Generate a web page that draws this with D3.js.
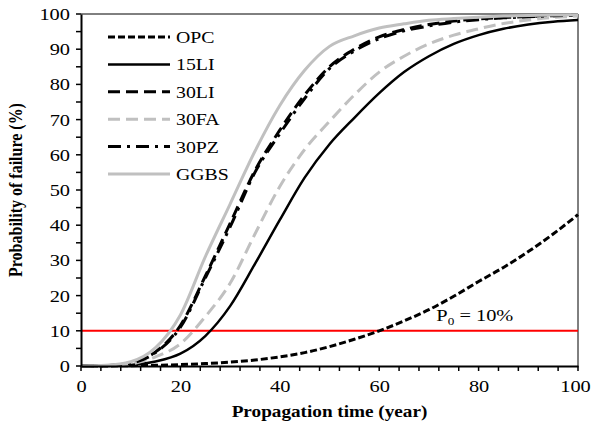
<!DOCTYPE html>
<html>
<head>
<meta charset="utf-8">
<script src="https://cdnjs.cloudflare.com/ajax/libs/d3/7.8.5/d3.min.js"></script>
<style>
  body { margin: 0; background: #fff; }
  svg text { font-family: "Liberation Serif", "Times New Roman", serif; }
</style>
</head>
<body>
<div id="chart"></div>
<script>
// propagation time (year)
var years = [0, 5, 10, 15, 20, 25, 30, 35, 40, 45, 50, 55, 60, 65, 70, 75, 80, 85, 90, 95, 100];

// probability of failure (%)
var opc  = [0, 0, 0.1, 0.2, 0.4, 0.7, 1.1, 1.7, 2.6, 3.8, 5.5, 7.6, 10, 12.8, 16, 19.8, 24, 28, 32.5, 37.5, 43];
var li15 = [0, 0.05, 0.3, 1.3, 3.5, 8.5, 17, 29, 41.5, 53.5, 63, 70.5, 77.5, 83.5, 88, 91.5, 94, 95.8, 97, 97.8, 98.3];
var li30 = [0, 0.1, 0.9, 4, 11.5, 25.5, 40.5, 55.5, 67, 77, 85, 90, 93.5, 95.6, 97, 98, 98.6, 99, 99.3, 99.5, 99.7];
var fa30 = [0, 0.1, 0.6, 2.6, 6.3, 14, 23.5, 37.5, 51, 61.5, 69.5, 77, 83.5, 88, 91.5, 94, 95.8, 97.3, 98.3, 99, 99.4];
var pz30 = [0, 0.1, 0.8, 3.8, 11, 25, 39.5, 55, 66, 76, 84.5, 89.5, 93, 95.2, 96.6, 97.7, 98.4, 98.9, 99.2, 99.5, 99.6];
var ggbs = [0, 0.2, 1.2, 5.2, 14.5, 31, 46, 61, 74, 84, 90.8, 93.8, 96, 97.2, 98.2, 98.7, 99.1, 99.4, 99.6, 99.7, 99.8];

var xTicks = [0, 20, 40, 60, 80, 100];
var yTicks = [0, 10, 20, 30, 40, 50, 60, 70, 80, 90, 100];
var threshold = 10;

var series = [
  { name: "OPC",  values: opc,  color: "#000",    width: 3,   dash: "7,3" },
  { name: "15LI", values: li15, color: "#000",    width: 2.5, dash: null },
  { name: "30LI", values: li30, color: "#000",    width: 3,   dash: "12,6" },
  { name: "30FA", values: fa30, color: "#c0c0c0", width: 3,   dash: "12,6" },
  { name: "30PZ", values: pz30, color: "#000",    width: 3,   dash: "13,6,3,6" },
  { name: "GGBS", values: ggbs, color: "#c0c0c0", width: 3,   dash: null }
];

var w = 591, h = 427;
var margin = { top: 14, right: 13, bottom: 61, left: 81 };
var pw = w - margin.left - margin.right;
var ph = h - margin.top - margin.bottom;
var sx = 1.2; // text in the picture is a bit wider than tall

var svg = d3.select("#chart").append("svg")
  .attr("width", w)
  .attr("height", h);

var g = svg.append("g")
  .attr("transform", "translate(" + margin.left + "," + margin.top + ")");

var xScale = d3.scaleLinear().domain([0, 100]).range([0, pw]);
var yScale = d3.scaleLinear().domain([0, 100]).range([ph, 0]);

// frame top/right
g.append("line").attr("x1", 0).attr("x2", pw).attr("y1", 0).attr("y2", 0)
  .attr("stroke", "#000").attr("stroke-width", 1);
g.append("line").attr("x1", pw).attr("x2", pw).attr("y1", 0).attr("y2", ph)
  .attr("stroke", "#000").attr("stroke-width", 1);

// threshold line
g.append("line")
  .attr("x1", 0).attr("x2", pw)
  .attr("y1", yScale(threshold)).attr("y2", yScale(threshold))
  .attr("stroke", "#ff0000").attr("stroke-width", 2);

var p0 = g.append("text")
  .attr("transform", "translate(" + xScale(71.5) + "," + (yScale(threshold) - 10) + ") scale(" + sx + ",1)")
  .attr("font-size", 17)
  .attr("fill", "#000");
p0.append("tspan").text("P");
p0.append("tspan").text("0").attr("font-size", 11).attr("dy", 4);
p0.append("tspan").text(" = 10%").attr("dy", -4);

// curves
var line = d3.line()
  .x((d, i) => xScale(years[i]))
  .y((d) => yScale(d))
  .curve(d3.curveMonotoneX);

g.selectAll(".curve")
  .data(series)
  .enter()
  .append("path")
  .attr("class", "curve")
  .attr("d", (d) => line(d.values))
  .attr("fill", "none")
  .attr("stroke", (d) => d.color)
  .attr("stroke-width", (d) => d.width)
  .attr("stroke-dasharray", (d) => d.dash);

// axes
var xAxis = d3.axisBottom(xScale).tickValues(xTicks).tickSize(0).tickPadding(14);
var yAxis = d3.axisLeft(yScale).tickValues(yTicks).tickSize(0).tickPadding(11);

var gx = g.append("g")
  .attr("transform", "translate(0," + ph + ")")
  .call(xAxis);
var gy = g.append("g").call(yAxis);

[gx, gy].forEach(function(a) {
  a.select(".domain").attr("stroke", "#000").attr("stroke-width", 2);
  a.selectAll("text").attr("font-size", 17).attr("fill", "#000")
    .attr("font-family", null)
    .attr("transform", "scale(" + sx + ",1)");
});
gy.selectAll("text").attr("x", -11 / sx);
// keep the last x label inside the picture
gx.selectAll("text").filter((d) => d === 100).attr("x", -3 / sx);

// tick marks
g.selectAll(".xtick")
  .data(d3.range(0, 101, 4))
  .enter()
  .append("line")
  .attr("x1", (d) => xScale(d)).attr("x2", (d) => xScale(d))
  .attr("y1", ph).attr("y2", ph + 5)
  .attr("stroke", "#000").attr("stroke-width", 1.5);

g.selectAll(".ytick")
  .data(d3.range(0, 101, 5))
  .enter()
  .append("line")
  .attr("x1", -5).attr("x2", 0)
  .attr("y1", (d) => yScale(d)).attr("y2", (d) => yScale(d))
  .attr("stroke", "#000").attr("stroke-width", 1.5);

// axis titles
svg.append("text")
  .attr("transform", "translate(" + (margin.left + pw / 2) + ",417) scale(" + sx + ",1)")
  .attr("text-anchor", "middle")
  .attr("font-size", 16)
  .attr("font-weight", "bold")
  .text("Propagation time (year)");

svg.append("text")
  .attr("transform", "translate(22," + (margin.top + ph / 2) + ") rotate(-90) scale(1," + sx + ")")
  .attr("text-anchor", "middle")
  .attr("font-size", 16)
  .attr("font-weight", "bold")
  .text("Probability of failure (%)");

// legend
var legend = g.selectAll(".legend")
  .data(series)
  .enter()
  .append("g")
  .attr("class", "legend")
  .attr("transform", (d, i) => "translate(27," + (23 + i * 27.4) + ")");

legend.append("line")
  .attr("x1", 0).attr("x2", 62)
  .attr("y1", 0).attr("y2", 0)
  .attr("stroke", (d) => d.color)
  .attr("stroke-width", (d) => d.width)
  .attr("stroke-dasharray", (d) => d.dash);

legend.append("text")
  .attr("transform", "translate(68,6) scale(" + sx + ",1)")
  .attr("font-size", 16.5)
  .attr("fill", "#000")
  .text((d) => d.name);
</script>
</body>
</html>
